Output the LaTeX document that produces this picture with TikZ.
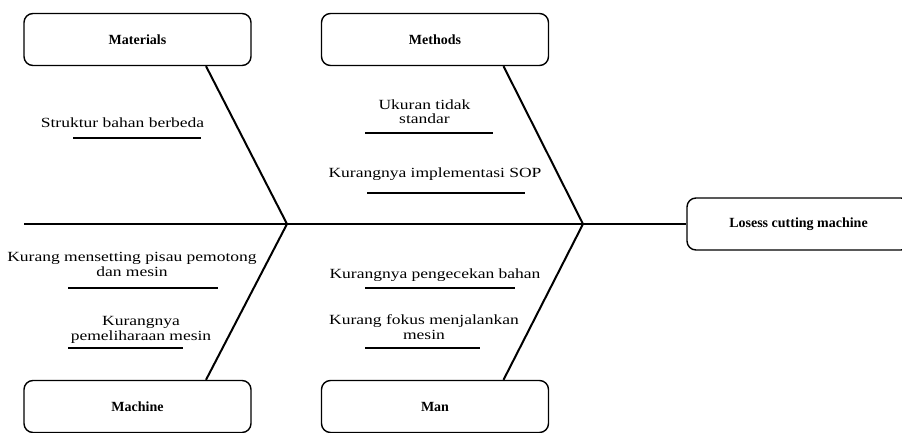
\documentclass[tikz,border=0pt]{standalone}
\usepackage{fontspec}
\setmainfont{Liberation Serif}
\usetikzlibrary{positioning,calc}

\begin{document}
\begin{tikzpicture}[x=1pt,y=-1pt,
    catbox/.style={draw, line width=1.4pt, rounded corners=9pt, minimum width=227pt, minimum height=52pt, font=\fontsize{14pt}{16pt}\selectfont\bfseries},
    cause/.style={align=center, inner sep=0pt, font=\fontsize{14pt}{14.5pt}\selectfont\addfontfeature{FakeStretch=1.25}},
    bone/.style={line width=2pt},
    uline/.style={line width=1.5pt}]
    \useasboundingbox (0,0) rectangle (902,433);
    \node[catbox] (mat) at (137.5,39.5) {Materials};
    \node[catbox] (met) at (435,39.5) {Methods};
    \node[catbox] (mac) at (137.5,406.5) {Machine};
    \node[catbox] (man) at (435,406.5) {Man};
    \node[catbox, minimum width=223pt] (eff) at (798.5,224) {Losess cutting machine};
    \coordinate (tail) at (24,224);
    \coordinate (j1) at (287,224);
    \coordinate (j2) at (583,224);
    \draw[line width=2.5pt] (tail) -- (j2);
    \draw[line width=1.2pt] (j2) -- (eff.west);
    \draw[bone] ($(mat.south west)!0.8!(mat.south east)$) -- (j1);
    \draw[bone] ($(mac.north west)!0.8!(mac.north east)$) -- (j1);
    \draw[bone] ($(met.south west)!0.8!(met.south east)$) -- (j2);
    \draw[bone] ($(man.north west)!0.8!(man.north east)$) -- (j2);
    \node[cause, anchor=base] (s1) at (122.5,128) {Struktur bahan berbeda};
    \node[cause, anchor=base] (m1) at (424.5,124) {Ukuran tidak\\standar};
    \node[cause, anchor=base] (m2) at (435,177) {Kurangnya implementasi SOP};
    \node[cause, anchor=base] (k1) at (132,276) {Kurang mensetting pisau pemotong\\dan mesin};
    \node[cause, anchor=base] (k2) at (141,340) {Kurangnya\\pemeliharaan mesin};
    \node[cause, anchor=base] (o1) at (435,278) {Kurangnya pengecekan bahan};
    \node[cause, anchor=base] (o2) at (424,339) {Kurang fokus menjalankan\\mesin};
    \draw[uline] (73,138) -- (201,138);
    \draw[uline] (365,133) -- (493,133);
    \draw[uline] (367,193) -- (525,193);
    \draw[uline] (68,288) -- (218,288);
    \draw[uline] (68,348) -- (183,348);
    \draw[uline] (365,288) -- (515,288);
    \draw[uline] (365,348) -- (480,348);
\end{tikzpicture}
\end{document}
